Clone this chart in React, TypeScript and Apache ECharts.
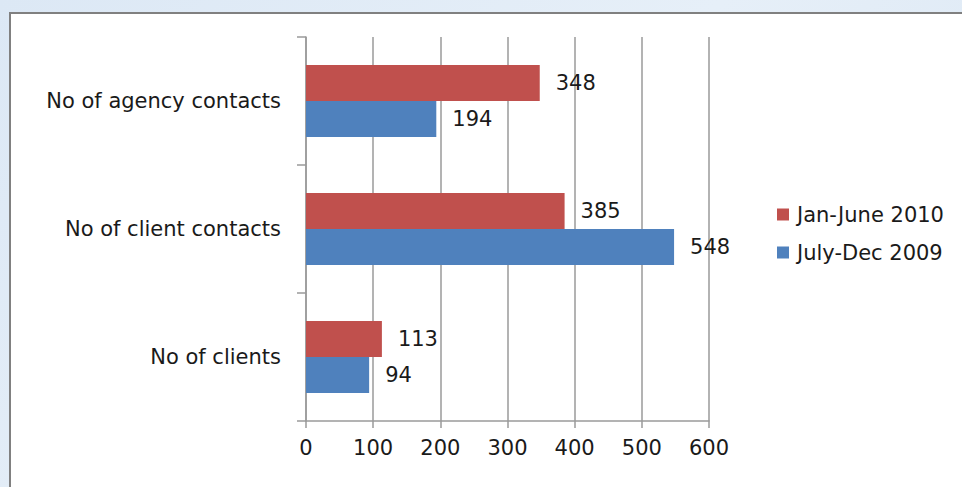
import React, { useEffect, useRef } from "react";
import * as echarts from "echarts";

// Categories listed bottom-to-top as they appear on the value axis
const categories = ["No of clients", "No of client contacts", "No of agency contacts"];
const janJune2010 = [113, 385, 348];
const julyDec2009 = [94, 548, 194];
const xTicks = { min: 0, max: 600, interval: 100 };

const RED = "#C0504D";
const BLUE = "#4F81BD";
const AXIS_GRAY = "#9a9a9a";
const FONT = "DejaVu Sans";
const FONT_SIZE = 21;

export default function App() {
  const ref = useRef<HTMLDivElement>(null);

  useEffect(() => {
    if (!ref.current) return;
    const chart = echarts.init(ref.current, undefined, { renderer: "svg" });

    const labelStyle = {
      show: true,
      position: "right" as const,
      distance: 16,
      fontFamily: FONT,
      fontSize: FONT_SIZE,
      color: "#1a1a1a",
    };

    chart.setOption({
      animation: false,
      backgroundColor: "transparent",
      graphic: [
        {
          type: "rect",
          z: -10,
          shape: { x: 10, y: 13, width: 960, height: 480 },
          style: { fill: "#ffffff", stroke: "#808080", lineWidth: 2 },
          silent: true,
        },
      ],
      grid: { left: 306, right: 253, top: 37, bottom: 66, containLabel: false },
      legend: {
        orient: "vertical",
        left: 772,
        top: 199,
        itemWidth: 12,
        itemHeight: 12,
        itemGap: 17,
        icon: "rect",
        data: ["Jan-June 2010", "July-Dec 2009"],
        textStyle: { fontFamily: FONT, fontSize: FONT_SIZE, color: "#1a1a1a", padding: [0, 0, 0, 3] },
      },
      xAxis: {
        type: "value",
        min: xTicks.min,
        max: xTicks.max,
        interval: xTicks.interval,
        axisLine: { show: true, lineStyle: { color: AXIS_GRAY, width: 1.5 } },
        axisTick: { show: true, length: 7, lineStyle: { color: AXIS_GRAY, width: 1.5 } },
        splitLine: { show: true, lineStyle: { color: AXIS_GRAY, width: 1.5 } },
        axisLabel: { margin: 16, fontFamily: FONT, fontSize: FONT_SIZE, color: "#1a1a1a" },
      },
      yAxis: {
        type: "category",
        data: categories,
        axisLine: { show: true, lineStyle: { color: AXIS_GRAY, width: 1.5 } },
        axisTick: { show: true, length: 9, lineStyle: { color: AXIS_GRAY, width: 1.5 } },
        axisLabel: { margin: 25, fontFamily: FONT, fontSize: FONT_SIZE, color: "#1a1a1a" },
      },
      series: [
        {
          name: "Jan-June 2010",
          type: "bar",
          data: janJune2010,
          barWidth: 36,
          barGap: "0%",
          itemStyle: { color: RED },
          label: labelStyle,
        },
        {
          name: "July-Dec 2009",
          type: "bar",
          data: julyDec2009,
          barWidth: 36,
          barGap: "0%",
          itemStyle: { color: BLUE },
          label: labelStyle,
        },
      ],
    });

    return () => chart.dispose();
  }, []);

  return (
    <div
      style={{
        position: "fixed",
        left: 0,
        top: 0,
        width: 962,
        height: 487,
        background: "linear-gradient(135deg, #dce8f5 0%, #e6eff8 50%, #d8e5f3 100%)",
      }}
    >
      <div ref={ref} style={{ width: 962, height: 487 }} />
    </div>
  );
}
